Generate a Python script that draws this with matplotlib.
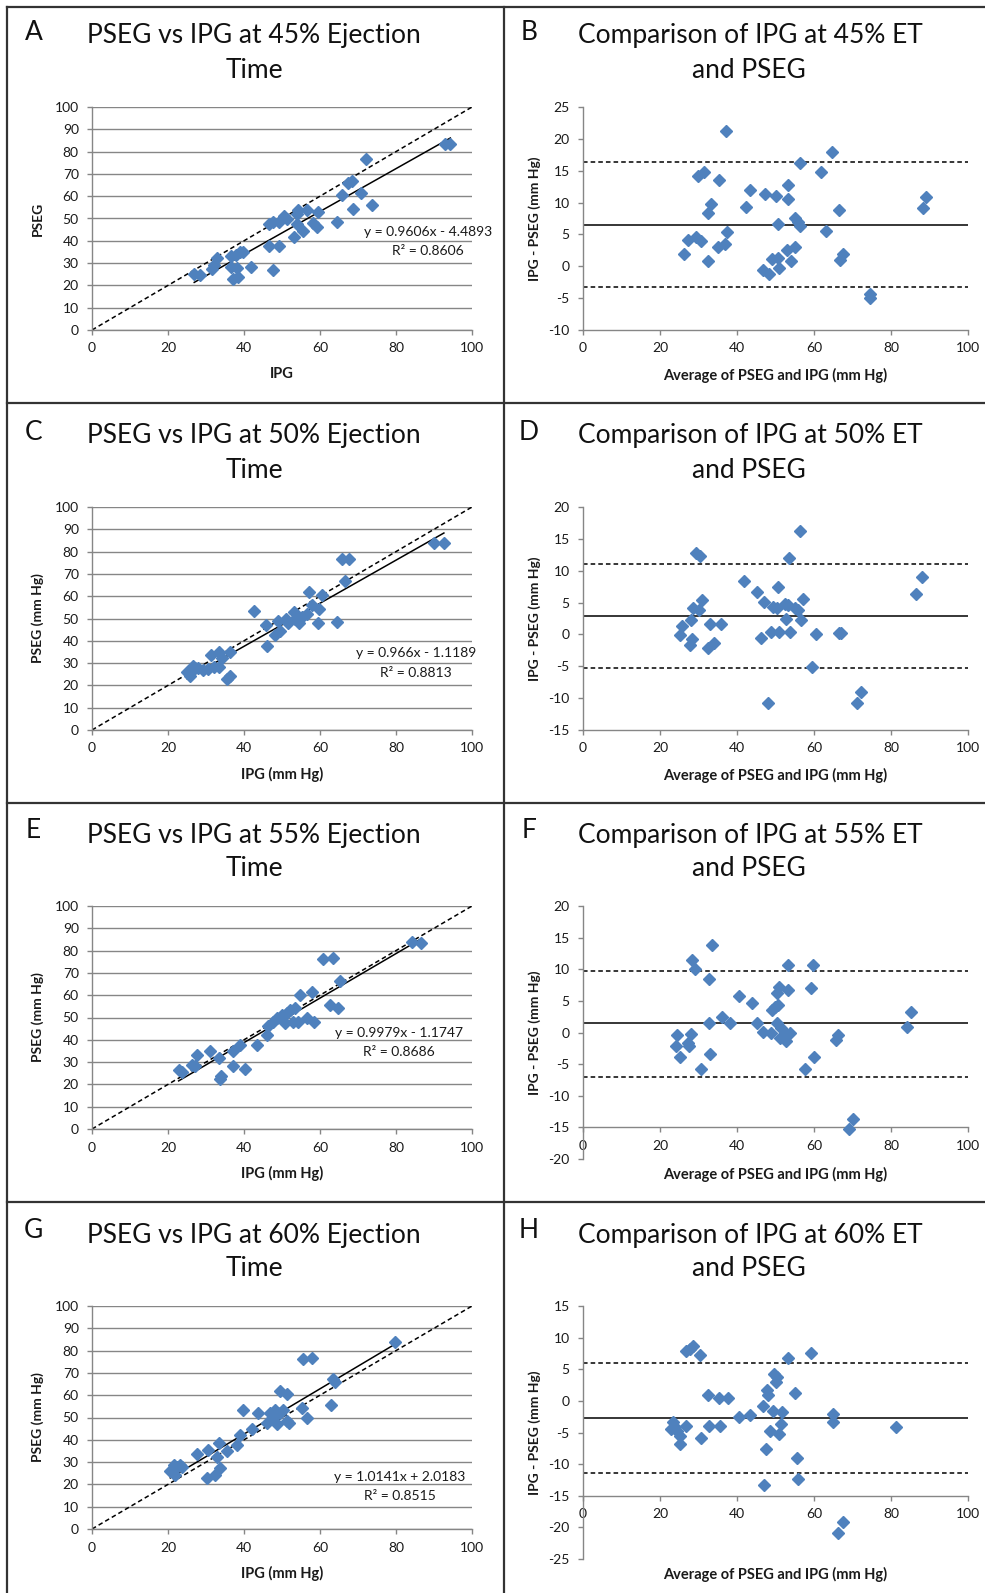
import numpy as np
import matplotlib.pyplot as plt

plt.rcParams['font.family'] = ['Lato', 'DejaVu Sans']
plt.rcParams['axes.unicode_minus'] = False

W, H = 985, 1593
BLUE = '#4F81BD'
GREY = '#868686'
TXT = '#1a1a1a'
TITLE_FONT = ['Liberation Sans Narrow', 'Lato', 'DejaVu Sans']

# ---- values ----
# A: 45% ejection time
a_ipg = [26.9, 28.5, 31.5, 32.0, 32.8, 36.5, 36.5, 37.0, 38.1, 38.5, 39.0, 39.8, 38.0,
         41.8, 46.5, 47.7, 46.7, 47.7, 49.3, 49.3, 50.4, 51.2, 53.2, 53.9, 54.3, 54.0,
         55.6, 56.5, 58.2, 59.1, 59.5, 64.4, 65.9, 67.4, 68.3, 68.7, 70.7, 72.1, 73.6,
         92.8, 94.3]
a_pseg = [25.1, 24.6, 27.3, 29.0, 32.1, 33.1, 28.4, 22.7, 27.6, 23.9, 35.0, 35.0, 33.5,
          28.4, 47.5, 48.5, 37.6, 26.9, 37.6, 48.5, 51.2, 49.7, 41.8, 52.2, 53.7, 47.5,
          44.5, 53.7, 47.8, 46.3, 53.0, 48.5, 60.4, 66.1, 66.7, 54.2, 61.6, 76.6, 56.0,
          83.6, 83.6]
a_fit = (0.9606, -4.4893)
a_eq = ['y = 0.9606x - 4.4893', 'R² = 0.8606']

# B: Bland-Altman 45%
b_avg = [26.2, 27.3, 29.4, 30.7, 29.9, 31.4, 32.5, 33.3, 32.5, 35.1, 36.8, 35.2, 37.2,
         37.5, 42.4, 43.5, 46.8, 48.3, 47.4, 49.1, 50.2, 50.6, 50.6, 50.9, 53.0, 53.2,
         53.2, 54.1, 55.0, 55.0, 55.8, 56.4, 56.3, 61.7, 63.2, 64.7, 66.4, 66.7, 67.5,
         74.5, 74.5, 88.3, 89.2]
b_diff = [2.0, 4.1, 4.6, 4.0, 14.2, 14.8, 8.3, 9.8, 0.9, 2.95, 3.5, 13.5, 21.2,
          5.4, 9.3, 11.9, -0.6, -1.2, 11.3, 1.1, 11.05, 1.3, 6.7, -0.3, 2.5, 12.8,
          10.6, 0.9, 7.6, 3.1, 7.0, 6.3, 16.2, 14.8, 5.6, 17.9, 8.8, 1.0, 1.9,
          -4.3, -5.0, 9.1, 10.8]
b_lines = (6.5, 16.3, -3.2)

# C: 50% ejection time
c_ipg = [25.0, 25.8, 26.7, 27.1, 28.0, 29.3, 30.6, 31.3, 32.0, 33.3, 33.3, 34.3, 35.5,
         36.2, 36.3, 42.7, 45.8, 46.0, 48.2, 49.0, 49.5, 51.0, 51.7, 53.2, 53.4, 54.6,
         55.2, 56.5, 57.0, 57.8, 59.4, 59.8, 60.4, 64.4, 65.7, 67.7, 66.5, 90.0, 92.6]
c_pseg = [26.1, 24.2, 28.8, 27.6, 28.0, 26.9, 27.3, 33.6, 28.4, 35.1, 28.1, 32.1, 22.7,
          24.2, 35.1, 53.3, 47.0, 37.6, 42.5, 48.8, 44.5, 50.0, 47.8, 53.0, 50.0, 47.8,
          50.7, 52.2, 61.9, 56.0, 48.1, 54.2, 60.4, 48.5, 76.6, 76.9, 66.7, 83.9, 83.9]
c_fit = (0.966, -1.1189)
c_eq = ['y = 0.966x - 1.1189', 'R² = 0.8813']

# D: Bland-Altman 50%
d_avg = [25.3, 25.8, 28.0, 28.2, 27.7, 28.6, 29.3, 30.3, 30.1, 31.0, 32.5, 33.1, 33.9,
         35.9, 41.8, 45.2, 46.3, 47.0, 48.1, 48.9, 49.4, 50.4, 50.6, 50.9, 52.4, 52.8,
         53.2, 53.5, 53.7, 55.0, 55.8, 56.3, 56.7, 57.1, 59.6, 60.4, 66.5, 66.9, 71.2,
         72.3, 86.6, 88.1]
d_diff = [-0.1, 1.3, 2.2, -0.7, -1.7, 4.1, 12.8, 12.3, 3.8, 5.4, -2.1, 1.7, -1.4,
          1.6, 8.35, 6.7, -0.5, 5.1, -10.7, 0.4, 4.3, 4.2, 7.5, 0.4, 4.8, 2.5,
          4.6, 12.0, 0.4, 4.1, 3.8, 16.3, 2.2, 5.5, -5.1, 0.1, 0.25, 0.15, -10.7,
          -9.0, 6.3, 9.0]
d_lines = (2.9, 11.0, -5.2)

# E: 55% ejection time
e_ipg = [22.8, 23.6, 26.3, 27.1, 27.6, 31.1, 33.3, 34.0, 33.7, 37.0, 37.0, 39.0, 40.3,
         43.3, 46.0, 46.4, 47.7, 48.6, 49.9, 50.8, 51.2, 52.1, 52.9, 53.4, 54.3, 54.7,
         56.5, 57.8, 58.4, 60.9, 63.3, 62.6, 64.8, 65.2, 84.1, 86.7]
e_pseg = [26.6, 25.4, 28.8, 28.1, 33.3, 35.1, 31.8, 23.9, 22.4, 34.8, 28.4, 37.8, 27.0,
          37.5, 42.2, 46.3, 47.8, 49.7, 51.2, 47.5, 51.9, 53.4, 48.2, 54.2, 47.8, 60.1,
          50.0, 61.6, 48.2, 76.3, 76.6, 55.7, 54.2, 66.4, 84.0, 83.6]
e_fit = (0.9979, -1.1747)
e_eq = ['y = 0.9979x - 1.1747', 'R² = 0.8686']

# F: Bland-Altman 55%
f_avg = [24.4, 24.1, 25.1, 27.3, 27.5, 28.1, 28.4, 29.0, 30.7, 32.7, 32.7, 33.1, 33.6,
         36.2, 38.3, 40.4, 43.9, 45.2, 46.8, 48.9, 49.1, 49.8, 50.4, 50.6, 50.4, 50.9,
         51.1, 51.5, 52.4, 52.8, 53.2, 53.2, 53.7, 57.6, 59.3, 59.7, 59.9, 65.6, 66.2,
         69.0, 70.1, 84.2, 85.1]
f_diff = [-0.4, -2.1, -3.9, -1.7, -2.2, -0.2, 11.4, 10.1, -5.7, 8.5, 1.45, -3.4, 13.8,
          2.4, 1.45, 5.7, 4.6, 1.45, 0.15, 0.0, 3.6, 4.1, 1.55, 4.3, 6.2, 7.2,
          -0.9, 0.7, -0.1, -1.4, 6.7, 10.6, 0.0, -5.7, 7.0, 10.7, -3.9, -1.2, -0.4,
          -15.3, -13.6, 0.8, 3.2]
f_lines = (1.45, 9.7, -7.0)

# G: 60% ejection time
g_ipg = [20.6, 21.5, 21.9, 22.3, 23.2, 23.6, 27.6, 30.2, 30.6, 32.4, 32.8, 33.7, 33.5,
         35.5, 38.1, 39.0, 39.8, 42.0, 43.8, 46.0, 46.8, 47.7, 48.2, 48.8, 49.5, 49.6,
         50.2, 51.2, 51.4, 51.9, 55.3, 55.6, 56.5, 58.0, 63.0, 63.3, 63.9, 79.7]
g_pseg = [25.8, 28.8, 24.3, 27.6, 28.8, 27.6, 33.6, 22.8, 35.5, 24.3, 32.2, 27.3, 38.5,
          34.8, 37.8, 42.2, 53.4, 44.8, 52.2, 47.5, 52.2, 49.7, 53.3, 47.0, 52.2, 62.1,
          53.4, 60.4, 48.5, 47.5, 54.2, 76.3, 50.0, 76.9, 55.7, 67.2, 66.1, 84.0]
g_fit = (1.0141, 2.0183)
g_eq = ['y = 1.0141x + 2.0183', 'R² = 0.8515']

# H: Bland-Altman 60%
h_avg = [23.4, 23.8, 22.9, 24.4, 25.1, 25.1, 26.7, 26.8, 27.7, 28.6, 30.3, 30.7, 32.5,
         32.7, 35.2, 35.5, 37.7, 40.5, 43.3, 46.8, 46.9, 47.6, 47.8, 48.1, 48.5, 49.4,
         49.6, 50.0, 50.4, 50.9, 51.5, 51.8, 53.2, 55.0, 55.7, 55.8, 59.3, 64.9, 64.9,
         66.2, 67.5, 81.4]
h_diff = [-3.4, -4.2, -4.5, -4.8, -5.5, -6.8, -4.05, 7.9, 8.2, 8.7, 7.2, -5.8, 0.9,
          -3.9, 0.5, -3.9, 0.5, -2.5, -2.2, -0.8, -13.3, -7.6, 1.7, 0.9, -4.8, -1.6,
          4.2, 3.05, 3.8, -5.2, -3.7, -1.8, 6.8, 1.2, -9.1, -12.4, 7.6, -2.0, -3.3,
          -20.9, -19.2, -4.2]
h_lines = (-2.65, 6.05, -11.35)

pct = ['45%', '50%', '55%', '60%']
left_letters = ['A', 'C', 'E', 'G']
right_letters = ['B', 'D', 'F', 'H']

fig = plt.figure(figsize=(W / 100, H / 100), dpi=100)


def px_axes(l, t, r, b):
    return fig.add_axes([l / W, 1 - b / H, (r - l) / W, (b - t) / H])


def style(ax):
    for s in ['top', 'right']:
        ax.spines[s].set_visible(False)
    for s in ['left', 'bottom']:
        ax.spines[s].set_color(GREY)
        ax.spines[s].set_linewidth(1)
    ax.tick_params(axis='both', color=GREY, width=1, length=3.5, labelsize=10,
                   labelcolor=TXT)
    ax.tick_params(axis='x', pad=5.5)
    ax.tick_params(axis='y', pad=6)


def scatter_panel(box, x, y, fit, xlabel, ylabel):
    l, t, r, b = box
    ax = px_axes(l, t, r, b)
    ax.plot([0, 100], [0, 100], color='black', lw=1.1, ls=(0, (3, 2)), zorder=2)
    xs = np.array([min(x), max(x)])
    ax.plot(xs, fit[0] * xs + fit[1], color='black', lw=1.1, zorder=2)
    ax.plot(x, y, 'D', color=BLUE, mec=BLUE, ms=6, zorder=3)
    ax.set_xlim(0, 100)
    ax.set_ylim(0, 100)
    ax.set_xticks(range(0, 101, 20))
    ax.set_yticks(range(0, 101, 10))
    ax.yaxis.grid(True, color=GREY, lw=1)
    ax.set_axisbelow(True)
    style(ax)
    ax.set_xlabel(xlabel, fontsize=10.5, fontweight='bold', color=TXT)
    ax.xaxis.label.set_va('center')
    ax.xaxis.set_label_coords(0.5, -44 / (b - t))
    ax.set_ylabel(ylabel, fontsize=10, fontweight='bold', color=TXT)
    ax.yaxis.label.set_va('center')
    ax.yaxis.set_label_coords(-54 / (r - l), 0.5)
    return ax


def ba_panel(box, x, y, lines, ylim, xaxis_at):
    l, t, r, b = box
    ax = px_axes(l, t, r, b)
    mean, up, lo = lines
    ax.axhline(mean, color='black', lw=1.1, zorder=2)
    ax.axhline(up, color='black', lw=1.1, ls=(0, (3, 2)), zorder=2)
    ax.axhline(lo, color='black', lw=1.1, ls=(0, (3, 2)), zorder=2)
    ax.plot(x, y, 'D', color=BLUE, mec=BLUE, ms=6, zorder=3, clip_on=False)
    ax.set_xlim(0, 100)
    ax.set_ylim(*ylim)
    ax.set_xticks(range(0, 101, 20))
    ax.set_yticks(range(ylim[0], ylim[1] + 1, 5))
    ax.spines['bottom'].set_position(('data', xaxis_at))
    style(ax)
    ax.set_xlabel('Average of PSEG and IPG (mm Hg)', fontsize=10.5,
                  fontweight='bold', color=TXT)
    ax.xaxis.label.set_va('center')
    ax.xaxis.set_label_coords(0.5, -45 / 223 if xaxis_at == ylim[0] else -15 / (b - t))
    ax.set_ylabel('IPG - PSEG (mm Hg)', fontsize=10, fontweight='bold', color=TXT)
    ax.yaxis.label.set_va('center')
    ax.yaxis.set_label_coords(-48 / (r - l), 0.5)
    return ax


rows = [0, 400, 799, 1199]
scat = [(a_ipg, a_pseg, a_fit, a_eq, 'IPG', 'PSEG'),
        (c_ipg, c_pseg, c_fit, c_eq, 'IPG (mm Hg)', 'PSEG (mm Hg)'),
        (e_ipg, e_pseg, e_fit, e_eq, 'IPG (mm Hg)', 'PSEG (mm Hg)'),
        (g_ipg, g_pseg, g_fit, g_eq, 'IPG (mm Hg)', 'PSEG (mm Hg)')]
bland = [(b_avg, b_diff, b_lines, (-10, 25), -10),
         (d_avg, d_diff, d_lines, (-15, 20), -15),
         (f_avg, f_diff, f_lines, (-20, 20), -15),
         (h_avg, h_diff, h_lines, (-25, 15), -15)]
eq_pos = [(428, 232, 251), (416, 653, 673), (399, 1033, 1052), (400, 1477, 1496)]

for i, dy in enumerate(rows):
    x, y, fit, eq, xl, yl = scat[i]
    scatter_panel((92, 107 + dy, 472, 330 + dy), x, y, fit, xl, yl)
    bx, by, bl, ylim, xa = bland[i]
    bottom = 330 + dy if xa == ylim[0] else 360 + dy
    ba_panel((583, 107 + dy, 968, bottom), bx, by, bl, ylim, xa)

# overlay in pixel coordinates: frames, titles, equations
ov = fig.add_axes([0, 0, 1, 1], zorder=10)
ov.set_xlim(0, W)
ov.set_ylim(H, 0)
ov.axis('off')
ov.plot([7, W], [7, 7], color='#333333', lw=1.6)
ov.plot([7, 7], [7, H], color='#333333', lw=1.6)
ov.plot([504, 504], [7, H], color='#333333', lw=1.6)
for dy in rows[:3]:
    ov.plot([7, W], [403 + dy, 403 + dy], color='#333333', lw=1.6)

for i, dy in enumerate(rows):
    ov.text(33.5, 32 + dy, left_letters[i], fontsize=19, family=TITLE_FONT,
            ha='center', va='center', color='#111111')
    ov.text(254, 36 + dy, 'PSEG vs IPG at %s Ejection' % pct[i], fontsize=19,
            family=TITLE_FONT, ha='center', va='center', color='#111111')
    ov.text(254, 70 + dy, 'Time', fontsize=19, family=TITLE_FONT,
            ha='center', va='center', color='#111111')
    ov.text(529, 32 + dy, right_letters[i], fontsize=19, family=TITLE_FONT,
            ha='center', va='center', color='#111111')
    ov.text(750, 36 + dy, 'Comparison of IPG at %s ET' % pct[i], fontsize=19,
            family=TITLE_FONT, ha='center', va='center', color='#111111')
    ov.text(749, 70 + dy, 'and PSEG', fontsize=19, family=TITLE_FONT,
            ha='center', va='center', color='#111111')
    ex, ey1, ey2 = eq_pos[i]
    eq = scat[i][3]
    ov.text(ex, ey1, eq[0], fontsize=10, ha='center', va='center', color=TXT)
    ov.text(ex, ey2, eq[1], fontsize=10, ha='center', va='center', color=TXT)

fig.savefig('out.png', dpi=100)
